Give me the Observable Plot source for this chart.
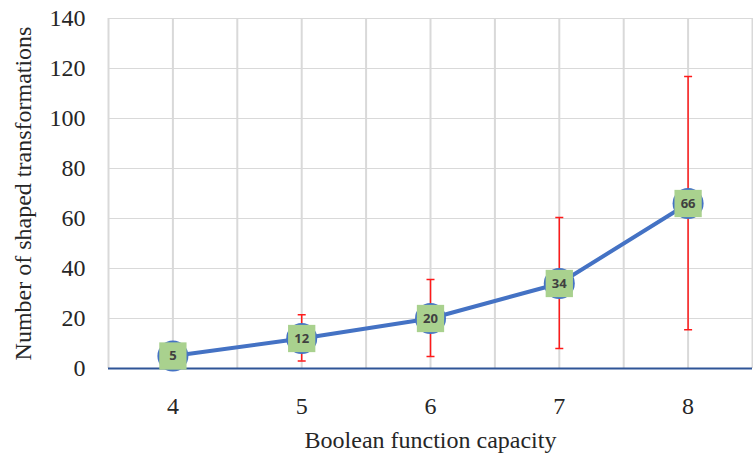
<!DOCTYPE html>
<html>
<head>
<meta charset="utf-8">
<script src="https://cdn.jsdelivr.net/npm/d3@7"></script>
<script src="https://cdn.jsdelivr.net/npm/@observablehq/plot@0.6"></script>
<style>
  html, body { margin: 0; padding: 0; background: #fff; }
  svg text { font-family: "Liberation Serif", "Times New Roman", Times, serif; }
  svg text.lbl, svg g.lbl text { font-family: "Open Sans", sans-serif; }
</style>
</head>
<body>
<div id="chart"></div>
<script>
const capacity = [4, 5, 6, 7, 8];
const transforms = [5, 12, 20, 34, 66];
const errLow = [5, 3, 4.8, 8, 15.5];
const errHigh = [5, 21.5, 35.6, 60.4, 116.8];
const yTicks = [0, 20, 40, 60, 80, 100, 120, 140];
const xGrid = [3.5, 4, 4.5, 5, 5.5, 6, 6.5, 7, 7.5, 8, 8.5];

const data = capacity.map((c, i) => ({
  x: c, y: transforms[i], lo: errLow[i], hi: errHigh[i]
}));
const errData = data.filter(d => d.hi > d.lo);

const cap = { draw(ctx) { ctx.moveTo(-4, 0); ctx.lineTo(4, 0); } };
const serif = "Liberation Serif";

const chart = Plot.plot({
  width: 753,
  height: 453,
  marginLeft: 108,
  marginRight: 1,
  marginTop: 18,
  marginBottom: 85,
  style: { fontFamily: serif, fontSize: "24px", color: "#262626", background: "#fff" },
  x: { domain: [3.5, 8.5] },
  y: { domain: [0, 140] },
  marks: [
    Plot.ruleY(yTicks, { stroke: "#d9d9d9", strokeWidth: 1 }),
    Plot.ruleX(xGrid, { stroke: "#d9d9d9", strokeWidth: 2 }),
    Plot.axisY({ ticks: yTicks, tickSize: 0, tickPadding: 23, label: null, fontSize: 24, fontFamily: serif, fill: "#262626" }),
    Plot.axisX({ ticks: capacity, tickFormat: d => String(d), tickSize: 0, tickPadding: 28, label: null, fontSize: 24, fontFamily: serif, fill: "#262626" }),
    Plot.text(["Number of shaped transformations"], { frameAnchor: "left", textAnchor: "middle", dx: -85, rotate: -90, fontSize: 24, fontFamily: serif, fill: "#262626" }),
    Plot.text(["Boolean function capacity"], { frameAnchor: "bottom", textAnchor: "middle", lineAnchor: "middle", dy: 72, fontSize: 24, fontFamily: serif, fill: "#262626" }),
    Plot.ruleX(errData, { x: "x", y1: "lo", y2: "hi", stroke: "#ff1a1a", strokeWidth: 1.5 }),
    Plot.dot(errData, { x: "x", y: "hi", symbol: cap, stroke: "#ff1a1a", strokeWidth: 1.5, r: 4 }),
    Plot.dot(errData, { x: "x", y: "lo", symbol: cap, stroke: "#ff1a1a", strokeWidth: 1.5, r: 4 }),
    Plot.ruleY([0], { stroke: "#2f5597", strokeWidth: 2 }),
    Plot.line(data, { x: "x", y: "y", stroke: "#4472c4", strokeWidth: 4 }),
    Plot.dot(data, { x: "x", y: "y", r: 15.5, fill: "#4472c4", stroke: "none" }),
    Plot.dot(data, { x: "x", y: "y", r: 15.4, symbol: "square", fill: "#a9d18e", stroke: "none" }),
    Plot.text(data, { x: "x", y: "y", text: d => String(d.y), className: "lbl", fontFamily: "Open Sans", fontWeight: "bold", fontSize: 13, fill: "#404040" })
  ]
});
document.getElementById("chart").appendChild(chart);
</script>
</body>
</html>
